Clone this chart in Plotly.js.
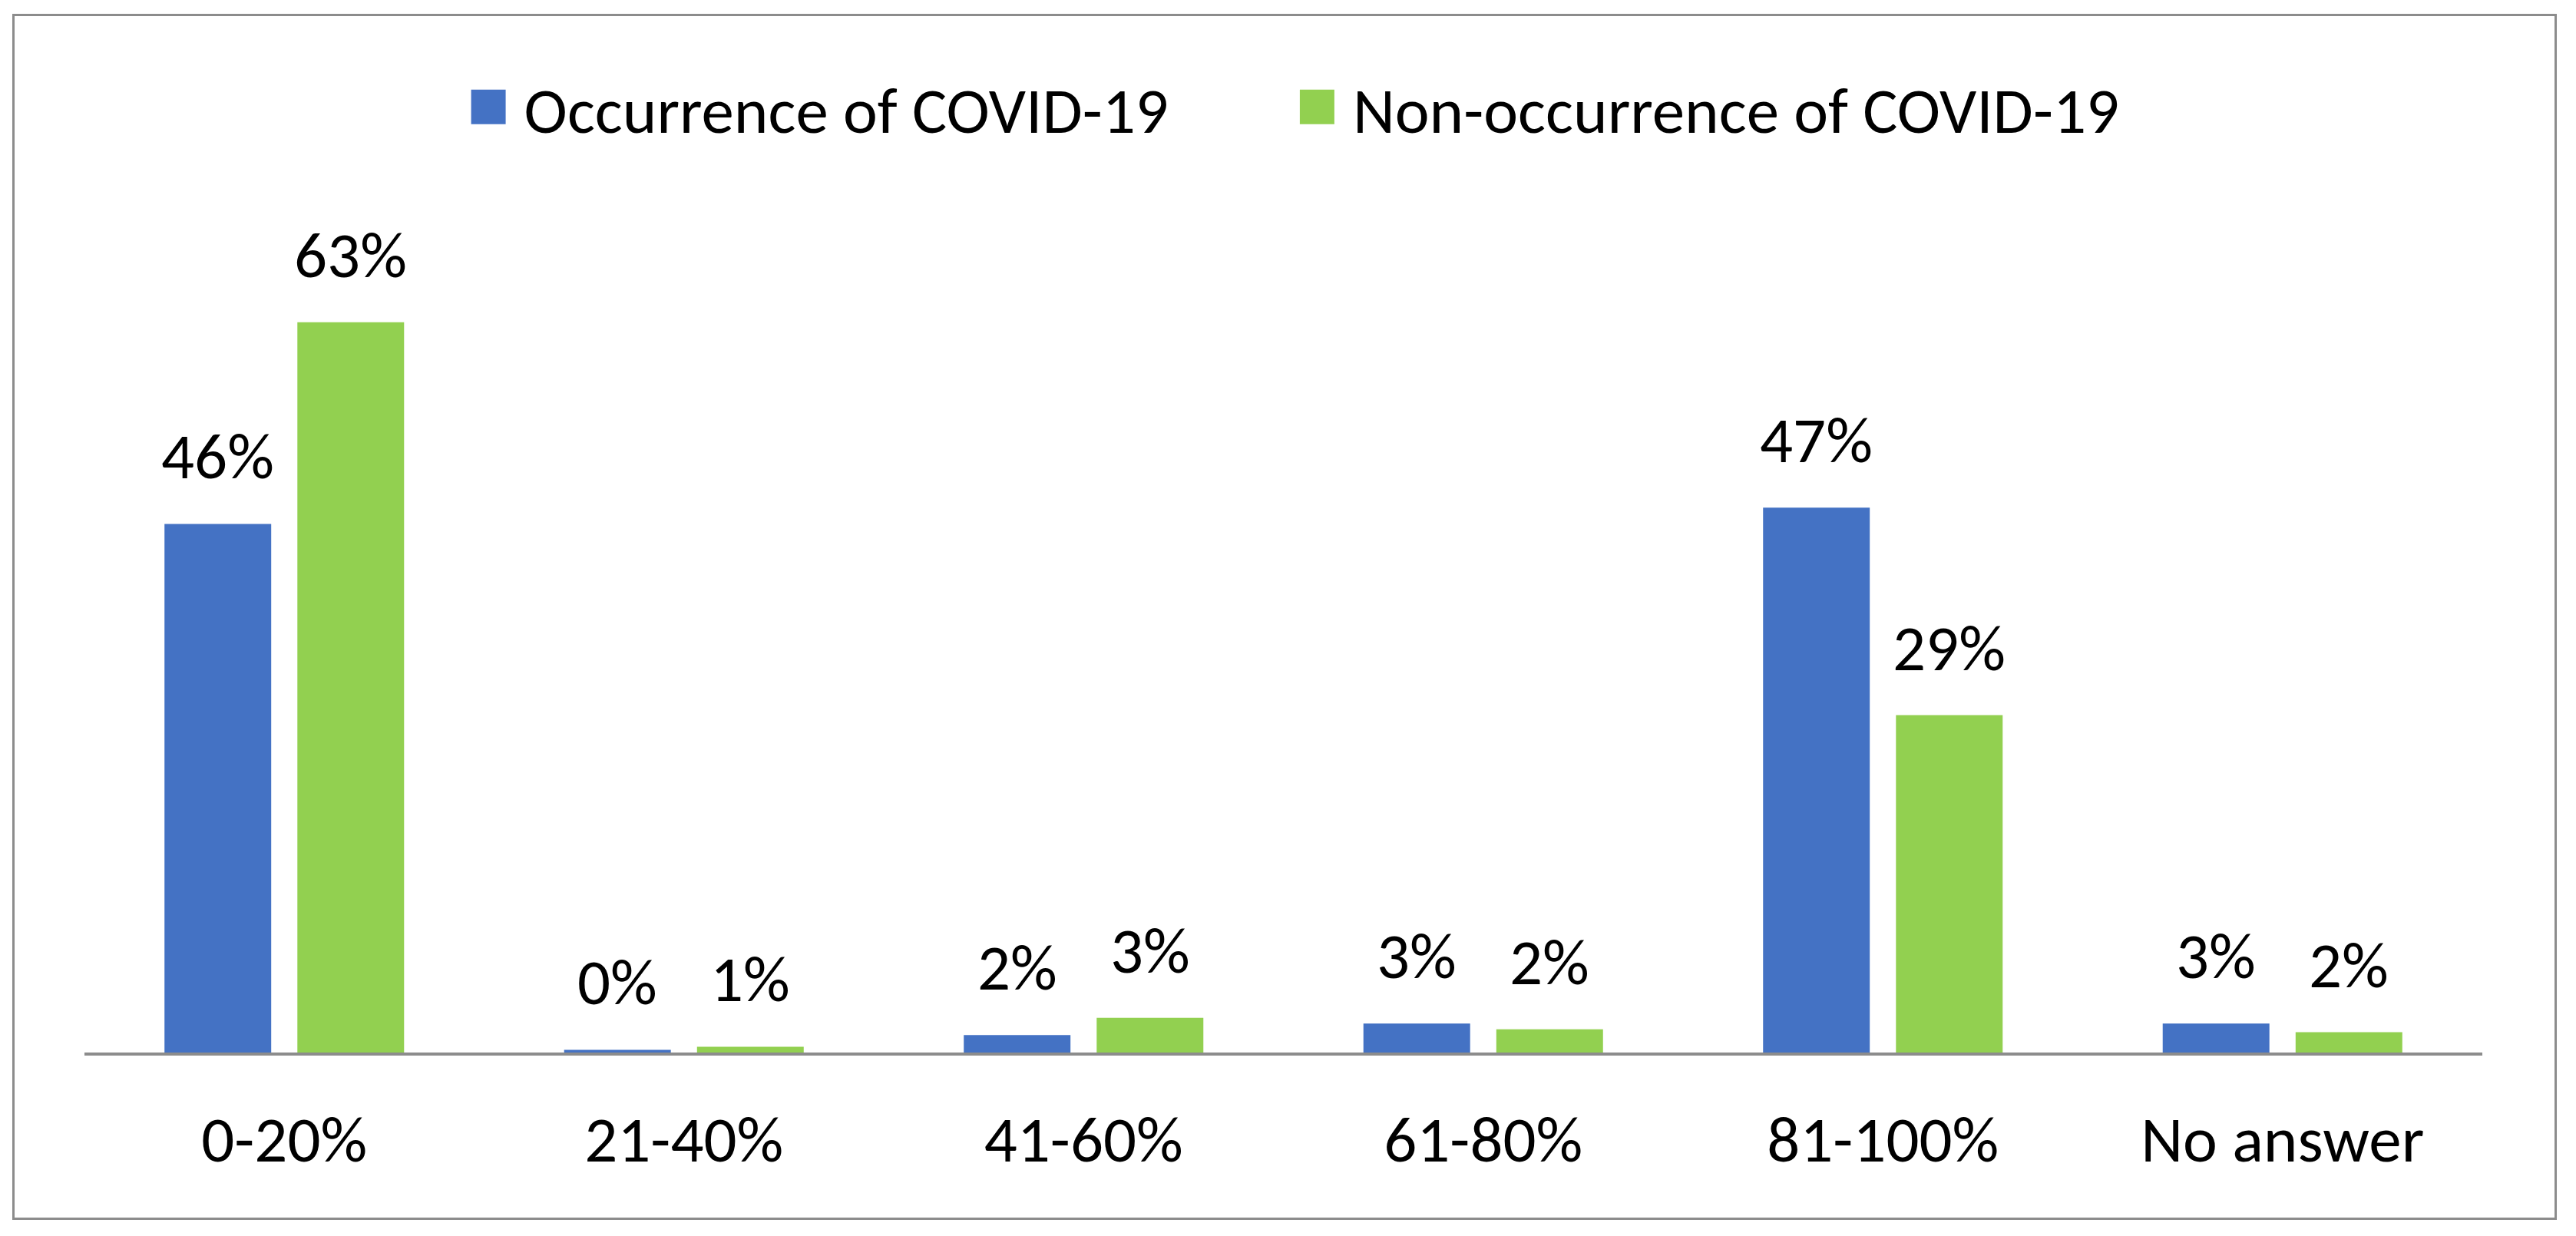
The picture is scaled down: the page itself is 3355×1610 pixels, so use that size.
<!DOCTYPE html>
<html><head><meta charset="utf-8">
<script src="https://cdn.plot.ly/plotly-3.0.1.min.js"></script>
<style>
html,body{margin:0;padding:0;background:#fff;}
#chart{position:absolute;left:0;top:0;width:3355px;height:1610px;}
#frame{position:absolute;left:16px;top:18px;width:3314px;height:1571px;box-sizing:border-box;border:3px solid #8c8c8c;pointer-events:none;}
</style></head><body>
<div id="chart"></div><div id="frame"></div>
<script>
const categories = ['0-20%', '21-40%', '41-60%', '61-80%', '81-100%', 'No answer'];
const occurrence = [45.6, 0.24, 1.5, 2.5, 47.0, 2.5];
const nonOccurrence = [63.0, 0.5, 3.0, 2.0, 29.1, 1.75];
const occurrenceLabels = ['46%', '0%', '2%', '3%', '47%', '3%'];
const nonOccurrenceLabels = ['63%', '1%', '3%', '2%', '29%', '2%'];
const seriesNames = ['Occurrence of COVID-19', 'Non-occurrence of COVID-19'];
const seriesColors = ['#4472C4', '#92D050'];

function hasFont(name) {
  const c = document.createElement('canvas').getContext('2d');
  const s = 'Occurrence of COVID-19 0-20%';
  c.font = '72px monospace'; const a = c.measureText(s).width;
  c.font = '72px "' + name + '", monospace'; const b = c.measureText(s).width;
  return Math.abs(a - b) > 1;
}
const useCarlito = hasFont('Carlito');
const FONT = useCarlito ? 'Carlito, Lato, sans-serif' : 'Lato, sans-serif';
const FS = useCarlito ? 85 : 76;

const slotShift = 86.5;
const annotations = [];
[[occurrence, occurrenceLabels, -slotShift], [nonOccurrence, nonOccurrenceLabels, slotShift]].forEach(([vals, labs, dx]) => {
  vals.forEach((v, i) => {
    annotations.push({
      x: categories[i], y: v, xref: 'x', yref: 'y', text: labs[i], showarrow: false,
      xshift: dx, yanchor: 'bottom', yshift: 34,
      font: {family: FONT, size: FS, color: '#000'}
    });
  });
});

const traces = [
  {type: 'bar', name: seriesNames[0], x: categories, y: occurrence, marker: {color: seriesColors[0]}, hoverinfo: 'skip'},
  {type: 'bar', name: seriesNames[1], x: categories, y: nonOccurrence, marker: {color: seriesColors[1]}, hoverinfo: 'skip'}
];

const layout = {
  width: 3355, height: 1610,
  paper_bgcolor: '#fff', plot_bgcolor: '#fff',
  margin: {l: 110, r: 122, t: 314, b: 239, pad: 0},
  barmode: 'group', bargap: 0.335, bargroupgap: 0.197,
  font: {family: FONT, size: FS, color: '#000'},
  showlegend: true,
  legend: {
    orientation: 'h', x: 0.1081, xanchor: 'left', y: 1.165, yanchor: 'middle',
    font: {family: FONT, size: FS, color: '#000'},
    itemwidth: 225,
    bgcolor: 'rgba(0,0,0,0)', borderwidth: 0, itemclick: false, itemdoubleclick: false
  },
  xaxis: {
    type: 'category', showgrid: false, zeroline: false,
    showline: true, linecolor: '#8c8c8c', linewidth: 3.5,
    ticks: '', ticklabelstandoff: 36,
    tickfont: {family: FONT, size: FS, color: '#000'}
  },
  yaxis: {
    range: [0, 70], showgrid: false, zeroline: false, showline: false,
    showticklabels: false, ticks: ''
  },
  annotations: annotations
};

function fixLegendSymbols() {
  const SIZE = 45, GAP = 24;
  document.querySelectorAll('.legend .traces').forEach(item => {
    const txt = item.querySelector('text.legendtext');
    const path = item.querySelector('.legendpoints path');
    if (!txt || !path) return;
    path.removeAttribute('transform');
    const h = SIZE / 2;
    path.setAttribute('d', 'M' + h + ',' + h + 'H' + (-h) + 'V' + (-h) + 'H' + h + 'Z');
    const pr = path.getBoundingClientRect();
    const tr = txt.getBoundingClientRect();
    const dx = (tr.left - GAP - SIZE) - pr.left;
    path.setAttribute('d', 'M' + (dx + h) + ',' + h + 'H' + (dx - h) + 'V' + (-h) + 'H' + (dx + h) + 'Z');
  });
}

Plotly.newPlot('chart', traces, layout, {displayModeBar: false, staticPlot: true}).then(() => {
  fixLegendSymbols();
  setTimeout(fixLegendSymbols, 300);
});
</script>
</body></html>
